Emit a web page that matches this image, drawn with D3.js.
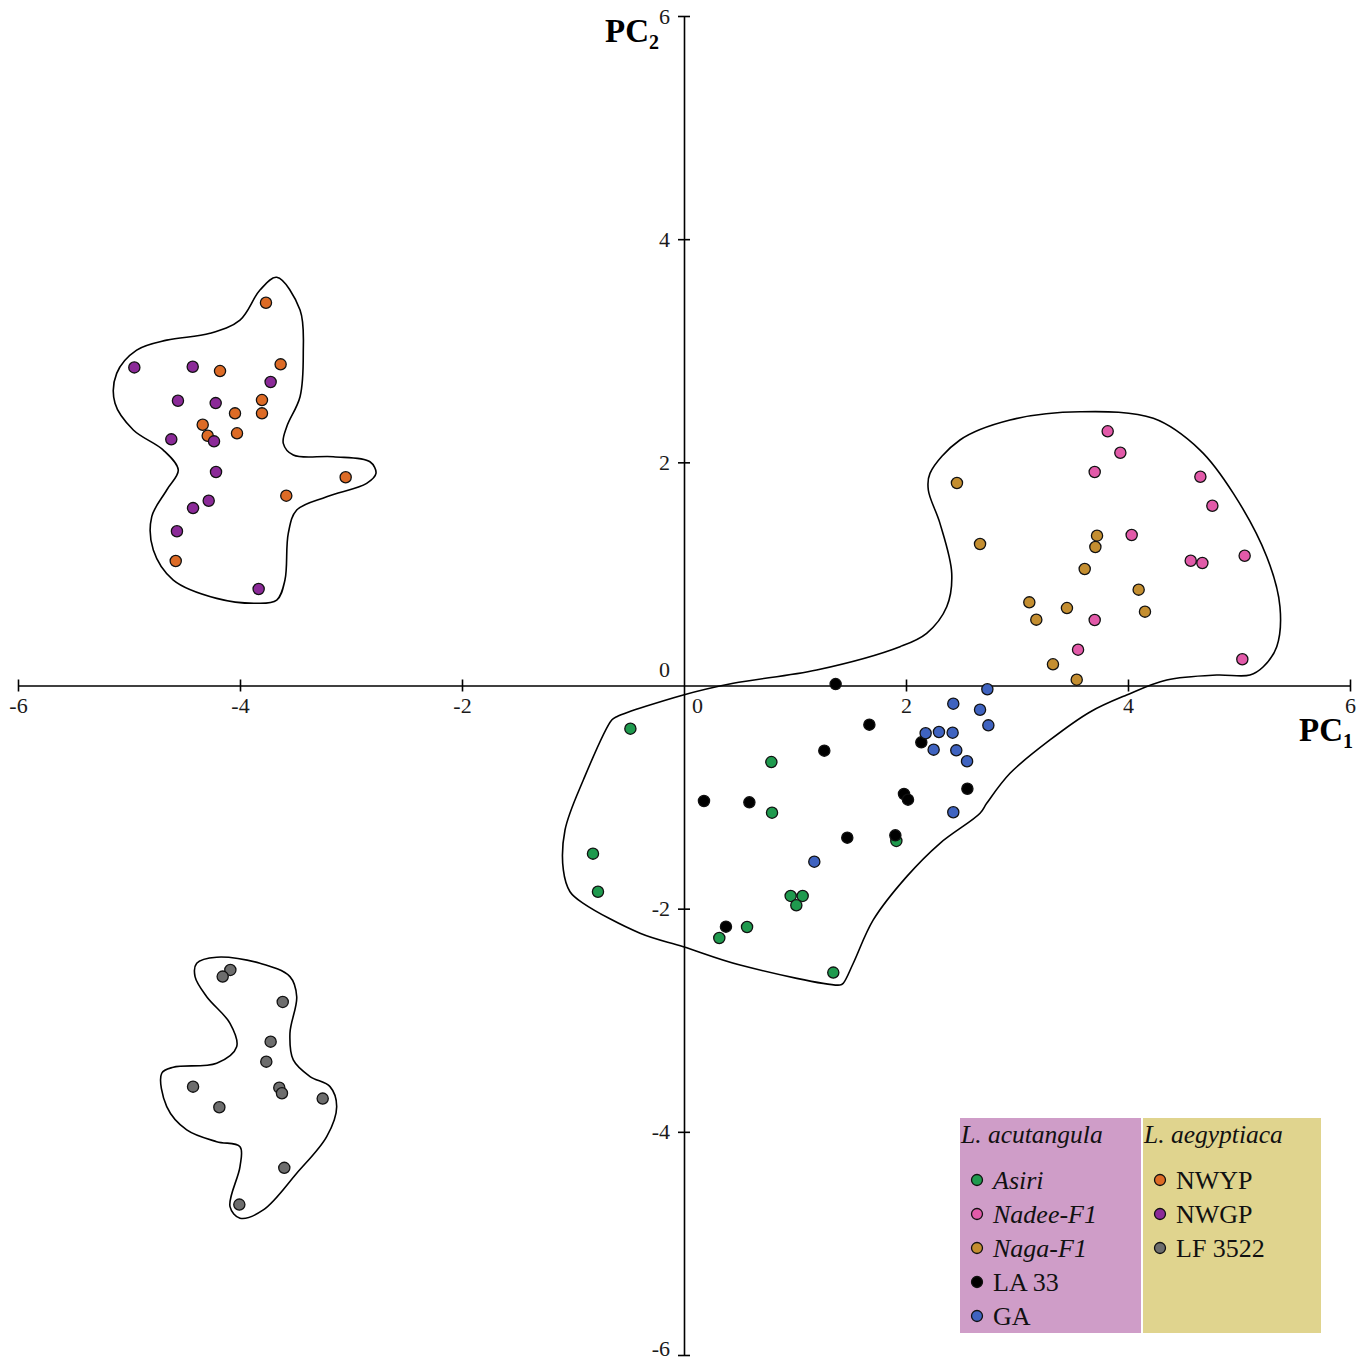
<!DOCTYPE html>
<html>
<head>
<meta charset="utf-8">
<script src="https://cdn.jsdelivr.net/npm/d3@7"></script>
<style>
  html, body { margin: 0; padding: 0; background: #ffffff; }
  svg { display: block; font-family: "Liberation Serif", "Times New Roman", serif; }
</style>
</head>
<body>
<svg id="chart" width="1369" height="1363"></svg>
<script>
// ---------------- DATA ----------------
const groups = ["Asiri", "Nadee-F1", "Naga-F1", "LA 33", "GA", "NWYP", "NWGP", "LF 3522"];
const groupColors = ["#1f9a4e", "#e25aa9", "#c48e30", "#000000", "#3f63c0", "#dd6b26", "#8b2a98", "#6d6d6d"];
const italicGroups = ["Asiri", "Nadee-F1", "Naga-F1"];
const speciesTitles = ["L. acutangula", "L. aegyptiaca"];
const speciesGroups = [["Asiri", "Nadee-F1", "Naga-F1", "LA 33", "GA"], ["NWYP", "NWGP", "LF 3522"]];
const axisTicks = [-6, -4, -2, 0, 2, 4, 6];

const asiri = [[-0.483,-0.387],[0.787,-0.686],[0.793,-1.140],[1.913,-1.393],[-0.820,-1.507],[-0.775,-1.848],
  [0.961,-1.886],[1.069,-1.886],[1.012,-1.970],[0.568,-2.164],[0.318,-2.263],[1.345,-2.573]];
const nadee = [[3.817,2.278],[3.931,2.086],[3.700,1.913],[4.652,1.871],[4.760,1.611],[4.033,1.349],
  [5.051,1.163],[4.565,1.118],[4.670,1.098],[3.700,0.587],[3.550,0.321],[5.030,0.235]];
const naga = [[2.459,1.815],[2.667,1.268],[3.721,1.343],[3.706,1.241],[3.610,1.044],[4.096,0.859],
  [4.153,0.662],[3.111,0.745],[3.450,0.694],[3.174,0.590],[3.324,0.190],[3.538,0.052]];
const la33 = [[1.366,0.013],[1.670,-0.351],[1.264,-0.584],[2.138,-0.509],[0.180,-1.035],[0.589,-1.047],
  [1.982,-0.972],[2.018,-1.023],[2.553,-0.925],[1.471,-1.364],[1.904,-1.343],[0.378,-2.161]];
const ga = [[2.733,-0.034],[2.426,-0.163],[2.667,-0.217],[2.742,-0.357],[2.177,-0.428],[2.297,-0.417],
  [2.420,-0.423],[2.249,-0.575],[2.453,-0.581],[2.550,-0.679],[2.426,-1.136],[1.174,-1.579]];
const nwyp = [[-3.766,3.430],[-3.634,2.878],[-4.180,2.818],[-3.802,2.558],[-3.802,2.439],[-4.045,2.439],
  [-4.336,2.337],[-4.291,2.238],[-4.027,2.260],[-3.048,1.866],[-3.583,1.701],[-4.579,1.116]];
const nwgp = [[-4.952,2.851],[-4.426,2.857],[-3.724,2.720],[-4.559,2.552],[-4.219,2.531],[-4.619,2.206],
  [-4.234,2.188],[-4.216,1.913],[-4.282,1.656],[-4.423,1.590],[-4.568,1.382],[-3.832,0.865]];
const lf3522 = [[-4.087,-2.549],[-4.156,-2.609],[-3.615,-2.836],[-3.724,-3.192],[-3.763,-3.371],[-4.423,-3.595],
  [-3.646,-3.604],[-3.622,-3.654],[-3.255,-3.702],[-4.186,-3.780],[-3.601,-4.323],[-4.006,-4.652]];
const groupValues = [asiri, nadee, naga, la33, ga, nwyp, nwgp, lf3522];

// Cluster outlines (data units)
const hullTopLeft = [[-3.669,3.658],[-3.459,3.365],[-3.430,2.977],[-3.459,2.588],[-3.579,2.319],[-3.610,2.170],
  [-3.520,2.065],[-3.159,2.050],[-2.829,2.005],[-2.775,1.901],[-2.859,1.812],[-3.219,1.692],[-3.489,1.573],
  [-3.565,1.364],[-3.595,0.945],[-3.669,0.766],[-3.850,0.737],[-4.210,0.781],[-4.601,0.945],[-4.781,1.214],
  [-4.795,1.513],[-4.660,1.752],[-4.556,1.931],[-4.691,2.110],[-4.961,2.290],[-5.126,2.529],[-5.111,2.797],
  [-4.931,3.006],[-4.660,3.095],[-4.270,3.156],[-4.000,3.275],[-3.820,3.544]];
const hullBottomLeft = [[-4.390,-2.489],[-4.210,-2.435],[-3.820,-2.489],[-3.550,-2.609],[-3.489,-2.789],
  [-3.550,-3.116],[-3.520,-3.356],[-3.369,-3.505],[-3.189,-3.595],[-3.129,-3.774],[-3.219,-4.043],
  [-3.489,-4.371],[-3.790,-4.700],[-4.000,-4.774],[-4.090,-4.670],[-4.000,-4.312],[-4.000,-4.133],
  [-4.210,-4.088],[-4.480,-3.983],[-4.660,-3.774],[-4.705,-3.475],[-4.601,-3.421],[-4.210,-3.385],
  [-4.030,-3.237],[-4.090,-3.027],[-4.300,-2.789],[-4.405,-2.609]];
const hullRight = [[3.568,2.453],[4.228,2.394],[4.649,2.110],[4.949,1.722],[5.250,1.154],[5.369,0.706],
  [5.340,0.348],[5.219,0.168],[5.099,0.094],[4.799,0.094],[4.349,0.049],[3.988,-0.085],[3.658,-0.237],
  [3.297,-0.488],[2.937,-0.787],[2.727,-1.056],[2.667,-1.145],[2.306,-1.414],[2.006,-1.713],[1.705,-2.101],
  [1.525,-2.489],[1.435,-2.668],[1.405,-2.684],[0.505,-2.505],[-0.006,-2.341],[-0.396,-2.220],
  [-0.907,-1.952],[-1.027,-1.848],[-1.087,-1.653],[-1.072,-1.295],[-0.907,-0.847],[-0.651,-0.309],
  [-0.606,-0.280],[-0.006,-0.085],[0.444,0.020],[1.195,0.139],[1.946,0.348],[2.186,0.468],[2.367,0.706],
  [2.412,1.005],[2.306,1.453],[2.201,1.752],[2.216,1.901],[2.486,2.200],[2.937,2.379]];
const hulls = [hullTopLeft, hullBottomLeft, hullRight];

// ---------------- CHART ----------------
const svg = d3.select("#chart");
const x = d3.scaleLinear().domain([-6, 6]).range([18, 1350]);
const y = d3.scaleLinear().domain([-6, 6]).range([1355, 16]);

// hulls
const hullLine = d3.line().x(d => x(d[0])).y(d => y(d[1])).curve(d3.curveCatmullRomClosed.alpha(0.5));
svg.append("g").selectAll("path").data(hulls).join("path")
  .attr("d", hullLine).attr("fill", "none").attr("stroke", "#000").attr("stroke-width", 1.6);

// axes
const xAxis = svg.append("g").attr("transform", `translate(0,${y(0)})`)
  .call(d3.axisBottom(x).tickValues(axisTicks).tickSize(0).tickFormat(d3.format("d")));
const yAxis = svg.append("g").attr("transform", `translate(${x(0)},0)`)
  .call(d3.axisLeft(y).tickValues(axisTicks).tickSize(0).tickFormat(d3.format("d")));
[xAxis, yAxis].forEach(a => {
  a.attr("font-family", "Liberation Serif, Times New Roman, serif").attr("font-size", 22);
  a.select(".domain").attr("stroke", "#000").attr("stroke-width", 1.6);
  a.selectAll("text").attr("font-family", "Liberation Serif, Times New Roman, serif")
    .attr("font-size", 22).attr("fill", "#1a1a1a");
});
xAxis.selectAll(".tick line").attr("y1", -6).attr("y2", 6).attr("stroke", "#000").attr("stroke-width", 1.6)
  .attr("display", d => d === 0 ? "none" : null);
xAxis.selectAll(".tick text").attr("y", 12).attr("dy", "0.71em").attr("dx", d => d === 0 ? 13 : 0)
  .text(d => d < 0 ? "-" + Math.abs(d) : d);
yAxis.selectAll(".tick line").attr("x1", -6).attr("x2", 6).attr("stroke", "#000").attr("stroke-width", 1.6)
  .attr("display", d => d === 0 ? "none" : null);
yAxis.selectAll(".tick text").attr("x", -14)
  .attr("dy", d => d === 0 ? "-0.4em" : (d === -6 ? "0.0em" : "0.32em"))
  .text(d => d < 0 ? "-" + Math.abs(d) : d);

// axis titles
const t2 = svg.append("text").attr("x", 605).attr("y", 42).attr("font-size", 33).attr("font-weight", "bold");
t2.append("tspan").text("PC");
t2.append("tspan").attr("font-size", 20).attr("dy", 7).text("2");
const t1 = svg.append("text").attr("x", 1299).attr("y", 741).attr("font-size", 33).attr("font-weight", "bold");
t1.append("tspan").text("PC");
t1.append("tspan").attr("font-size", 20).attr("dy", 7).text("1");

// points
const pointData = [];
groupValues.forEach((vals, gi) => vals.forEach(v => pointData.push({g: gi, x: v[0], y: v[1]})));
svg.append("g").selectAll("circle").data(pointData).join("circle")
  .attr("cx", d => x(d.x)).attr("cy", d => y(d.y)).attr("r", 5.6)
  .attr("fill", d => groupColors[d.g]).attr("stroke", "#111").attr("stroke-width", 1.3);

// legend
const legendBoxes = [
  {x: 960, w: 181, fill: "#cf9dc8"},
  {x: 1143, w: 178, fill: "#e0d48e"}
];
const legend = svg.append("g");
legendBoxes.forEach((b, i) => {
  legend.append("rect").attr("x", b.x).attr("y", 1118).attr("width", b.w).attr("height", 215).attr("fill", b.fill);
  legend.append("text").attr("x", b.x + 1).attr("y", 1143).attr("font-size", 25.5).attr("font-style", "italic")
    .attr("fill", "#111").text(speciesTitles[i]);
  speciesGroups[i].forEach((g, j) => {
    const gi = groups.indexOf(g);
    const cy = 1180 + j * 34;
    legend.append("circle").attr("cx", b.x + 17).attr("cy", cy).attr("r", 5.5)
      .attr("fill", groupColors[gi]).attr("stroke", "#111").attr("stroke-width", 1.3);
    legend.append("text").attr("x", b.x + 33).attr("y", cy + 9).attr("font-size", 26).attr("fill", "#111")
      .attr("font-style", italicGroups.includes(g) ? "italic" : "normal").text(g);
  });
});
</script>
</body>
</html>
